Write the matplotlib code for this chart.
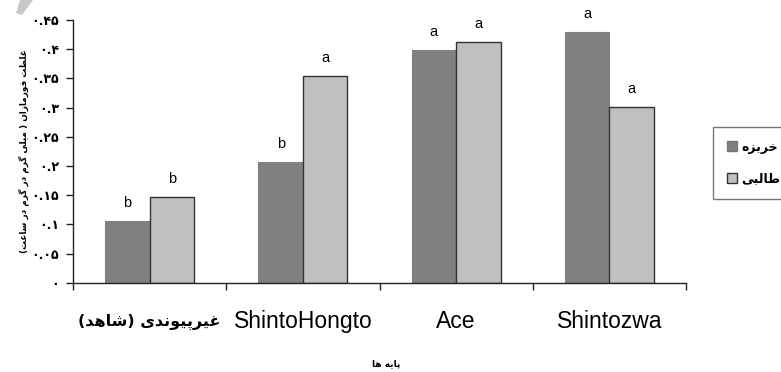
import matplotlib
matplotlib.use("Agg")
import matplotlib.pyplot as plt
from matplotlib.patches import Polygon, Patch
import numpy as np

# ---------------- data ----------------
categories = ["غیرپیوندی (شاهد)", "ShintoHongto", "Ace", "Shintozwa"]
series_names = ["خربزه", "طالبی"]
melon = [0.105, 0.206, 0.398, 0.429]
cantaloupe = [0.147, 0.354, 0.412, 0.301]
melon_letters = ["b", "b", "a", "a"]
cantaloupe_letters = ["b", "a", "a", "a"]
yticks = [0, 0.05, 0.10, 0.15, 0.20, 0.25, 0.30, 0.35, 0.40, 0.45]
ytick_labels = ["۰", "۰.۰۵", "۰.۱", "۰.۱۵", "۰.۲", "۰.۲۵", "۰.۳", "۰.۳۵", "۰.۴", "۰.۴۵"]
ylabel = "غلظت فورمازان ( میلی گرم در گرم در ساعت)"
xlabel = "پایه ها"

# ------------- minimal Arabic/Persian shaping -------------
FORMS = {
    'ا': (0xFE8D, 0xFE8E, None, None),
    'ب': (0xFE8F, 0xFE90, 0xFE91, 0xFE92),
    'پ': (0xFB56, 0xFB57, 0xFB58, 0xFB59),
    'ت': (0xFE95, 0xFE96, 0xFE97, 0xFE98),
    'خ': (0xFEA5, 0xFEA6, 0xFEA7, 0xFEA8),
    'د': (0xFEA9, 0xFEAA, None, None),
    'ر': (0xFEAD, 0xFEAE, None, None),
    'ز': (0xFEAF, 0xFEB0, None, None),
    'س': (0xFEB1, 0xFEB2, 0xFEB3, 0xFEB4),
    'ش': (0xFEB5, 0xFEB6, 0xFEB7, 0xFEB8),
    'ط': (0xFEC1, 0xFEC2, 0xFEC3, 0xFEC4),
    'ظ': (0xFEC5, 0xFEC6, 0xFEC7, 0xFEC8),
    'ع': (0xFEC9, 0xFECA, 0xFECB, 0xFECC),
    'غ': (0xFECD, 0xFECE, 0xFECF, 0xFED0),
    'ف': (0xFED1, 0xFED2, 0xFED3, 0xFED4),
    'گ': (0xFB92, 0xFB93, 0xFB94, 0xFB95),
    'ل': (0xFEDD, 0xFEDE, 0xFEDF, 0xFEE0),
    'م': (0xFEE1, 0xFEE2, 0xFEE3, 0xFEE4),
    'ن': (0xFEE5, 0xFEE6, 0xFEE7, 0xFEE8),
    'ه': (0xFEE9, 0xFEEA, 0xFEEB, 0xFEEC),
    'و': (0xFEED, 0xFEEE, None, None),
    'ی': (0xFBFC, 0xFBFD, 0xFBFE, 0xFBFF),
}
MIRROR = {'(': ')', ')': '('}


def dual(c):
    return c in FORMS and FORMS[c][2] is not None


def shape(text):
    if not any(c in FORMS for c in text):
        return text
    out = []
    n = len(text)
    for i, c in enumerate(text):
        if c not in FORMS:
            out.append(MIRROR.get(c, c))
            continue
        prev = text[i - 1] if i > 0 else None
        nxt = text[i + 1] if i < n - 1 else None
        jp = prev is not None and dual(prev)
        jn = dual(c) and nxt is not None and nxt in FORMS
        iso, fin, ini, med = FORMS[c]
        if jp and jn:
            code = med
        elif jp:
            code = fin
        elif jn:
            code = ini
        else:
            code = iso
        out.append(chr(code))
    return "".join(reversed(out))


# ---------------- figure ----------------
plt.rcParams['font.family'] = ['Liberation Sans', 'DejaVu Sans']
fig = plt.figure(figsize=(7.81, 3.72), dpi=100)
W, H = 781, 372
ax = fig.add_axes([73 / W, 1 - 282.7 / H, (686 - 73) / W, (282.7 - 20) / H])

x = np.arange(len(categories)) + 0.5
bw = 0.29
dark, light = "#808080", "#C0C0C0"
ax.bar(x - bw / 2, melon, bw, color=dark, edgecolor=dark, linewidth=0.8, zorder=2)
ax.bar(x + bw / 2, cantaloupe, bw, color=light, edgecolor="#333333", linewidth=1.0, zorder=2)

for xi, v, t in zip(x - bw / 2, melon, melon_letters):
    ax.annotate(t, (xi, v), xytext=(0, 8), textcoords="offset points",
                ha="center", va="bottom", fontsize=10.5, family=['Liberation Sans', 'DejaVu Sans'])
for xi, v, t in zip(x + bw / 2, cantaloupe, cantaloupe_letters):
    ax.annotate(t, (xi, v), xytext=(0, 8), textcoords="offset points",
                ha="center", va="bottom", fontsize=10.5, family=['Liberation Sans', 'DejaVu Sans'])

ax.set_xlim(0, len(categories))
ax.set_ylim(0, 0.45)
ax.set_yticks(yticks)
ax.set_yticklabels(ytick_labels, fontsize=9, fontweight="bold", family=['DejaVu Sans'])
ax.set_xticks(np.arange(len(categories) + 1))
ax.set_xticklabels([])
ax.set_xticks(x, minor=True)
labs = ax.set_xticklabels([shape(c) for c in categories], minor=True, fontsize=16.5,
                          family=['Liberation Sans', 'DejaVu Sans'])
labs[0].set_fontsize(11.5)
labs[0].set_fontweight("bold")
labs[0].set_family(['DejaVu Sans'])
for lab in labs:
    lab.set_verticalalignment("center")
ax.tick_params(axis="x", which="minor", length=0, pad=28)
ax.tick_params(axis="x", which="major", length=5, width=1, direction="out", color="#222222")
ax.tick_params(axis="y", length=5, width=1, direction="out", color="#222222", pad=5)
for s in ["top", "right"]:
    ax.spines[s].set_visible(False)
for s in ["left", "bottom"]:
    ax.spines[s].set_color("#222222")
    ax.spines[s].set_linewidth(1)

fig.text(386 / W, 1 - 364 / H, shape(xlabel), ha="center", va="center",
         fontsize=6.5, fontweight="bold", family=['DejaVu Sans'])
fig.text(24 / W, 1 - 151 / H, shape(ylabel), ha="center", va="center", rotation=90,
         fontsize=6.4, fontweight="bold", family=['DejaVu Sans'])

handles = [Patch(facecolor=dark, edgecolor="#777777"), Patch(facecolor=light, edgecolor="#333333")]
leg = fig.legend(handles, [shape(s) for s in series_names], loc="upper left",
                 bbox_to_anchor=(713 / W, 1 - 127 / H), frameon=True, fancybox=False,
                 prop={'family': ['DejaVu Sans'], 'weight': 'bold', 'size': 9},
                 handlelength=0.85, handleheight=0.85, handletextpad=0.3,
                 labelspacing=1.5, borderpad=1.1, borderaxespad=0)
leg.get_frame().set_edgecolor("#555555")
leg.get_frame().set_linewidth(1)

# decorative corner mark from the source page
fig.patches.append(Polygon([(16 / W, 1 - 13 / H), (20 / W, 1.0), (33 / W, 1.0), (22 / W, 1 - 15 / H)],
                           closed=True, transform=fig.transFigure, facecolor="#c8c8c8",
                           edgecolor="none"))

fig.savefig("out.png", dpi=100)
